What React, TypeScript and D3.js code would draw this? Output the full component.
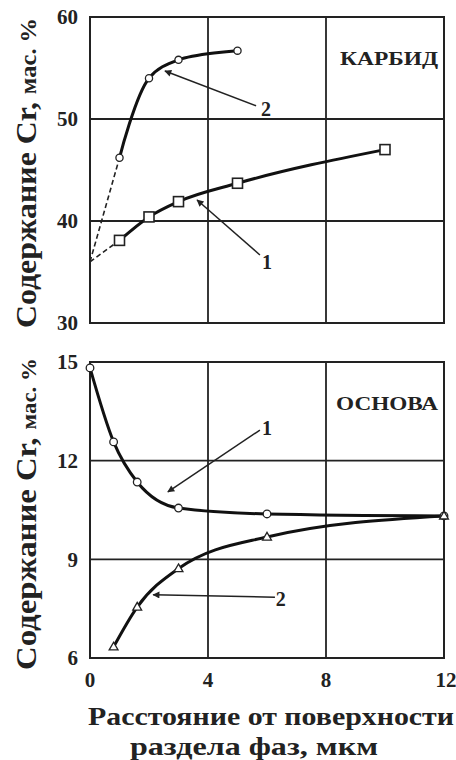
import React from "react";
import * as d3 from "d3";

// ---- data ----
const xTicks = [0, 4, 8, 12];
const topYTicks = [30, 40, 50, 60];
const botYTicks = [6, 9, 12, 15];

// Top panel (КАРБИД)
const carbideX2 = [1, 2, 3, 5];
const carbideY2 = [46.2, 54.0, 55.8, 56.7];
const carbideX1 = [1, 2, 3, 5, 10];
const carbideY1 = [38.1, 40.4, 41.9, 43.7, 47.0];
const carbideOrigin = [0, 36];

// Bottom panel (ОСНОВА)
const baseX1 = [0, 0.8, 1.6, 3, 6, 12];
const baseY1 = [14.82, 12.57, 11.35, 10.56, 10.38, 10.32];
const baseX2 = [0.8, 1.6, 3, 6, 12];
const baseY2 = [6.34, 7.55, 8.72, 9.68, 10.32];

// annotations (data units): [tipX, tipY, startX, startY, labelX, labelY, label]
const topNotes: [number, number, number, number, number, number, string][] = [
  [2.54, 54.7, 5.63, 51.3, 5.97, 51.0, "2"],
  [3.63, 42.06, 5.76, 36.67, 6.0, 36.0, "1"],
];
const botNotes: [number, number, number, number, number, number, string][] = [
  [2.64, 11.05, 5.76, 12.93, 6.0, 12.98, "1"],
  [2.14, 7.92, 6.27, 7.85, 6.47, 7.78, "2"],
];

const FONT = "Liberation Serif, Times New Roman, Times, serif";

export default function App() {
  const x = d3.scaleLinear().domain([0, 12]).range([90, 444]);
  const yT = d3.scaleLinear().domain([30, 60]).range([323, 17]);
  const yB = d3.scaleLinear().domain([6, 15]).range([658, 362]);

  const lineT = d3
    .line<[number, number]>()
    .x((d) => x(d[0]))
    .y((d) => yT(d[1]))
    .curve(d3.curveCatmullRom.alpha(0.5));
  const lineT1 = d3
    .line<[number, number]>()
    .x((d) => x(d[0]))
    .y((d) => yT(d[1]))
    .curve(d3.curveMonotoneX);
  const lineB = d3
    .line<[number, number]>()
    .x((d) => x(d[0]))
    .y((d) => yB(d[1]))
    .curve(d3.curveMonotoneX);
  const straightT = d3
    .line<[number, number]>()
    .x((d) => x(d[0]))
    .y((d) => yT(d[1]));

  const zip = (xs: number[], ys: number[]) =>
    xs.map((v, i) => [v, ys[i]] as [number, number]);

  const c2 = zip(carbideX2, carbideY2);
  const c1 = zip(carbideX1, carbideY1);
  const b1 = zip(baseX1, baseY1);
  const b2 = zip(baseX2, baseY2);

  const frame = (y: d3.ScaleLinear<number, number>, ticks: number[]) => (
    <g>
      {xTicks.slice(1, -1).map((t) => (
        <line
          key={"v" + t}
          x1={x(t)}
          x2={x(t)}
          y1={y(ticks[0])}
          y2={y(ticks[ticks.length - 1])}
          stroke="#222"
          strokeWidth={1.8}
        />
      ))}
      {ticks.slice(1, -1).map((t) => (
        <line
          key={"h" + t}
          x1={x(0)}
          x2={x(12)}
          y1={y(t)}
          y2={y(t)}
          stroke="#222"
          strokeWidth={1.8}
        />
      ))}
      <rect
        x={x(0)}
        y={y(ticks[ticks.length - 1])}
        width={x(12) - x(0)}
        height={y(ticks[0]) - y(ticks[ticks.length - 1])}
        fill="none"
        stroke="#222"
        strokeWidth={2}
      />
      {ticks.map((t) => (
        <text
          key={"t" + t}
          x={78}
          y={y(t)}
          dy="0.35em"
          textAnchor="end"
          fontFamily={FONT}
          fontWeight="bold"
          fontSize={21}
          fill="#222"
        >
          {t}
        </text>
      ))}
    </g>
  );

  const notes = (
    arr: [number, number, number, number, number, number, string][],
    y: d3.ScaleLinear<number, number>
  ) =>
    arr.map((n, i) => (
      <g key={i}>
        <line
          x1={x(n[2])}
          y1={y(n[3])}
          x2={x(n[0])}
          y2={y(n[1])}
          stroke="#222"
          strokeWidth={1.5}
          markerEnd="url(#arr)"
        />
        <text
          x={x(n[4])}
          y={y(n[5])}
          dy="0.35em"
          textAnchor="middle"
          fontFamily={FONT}
          fontWeight="bold"
          fontSize={20}
          fill="#222"
        >
          {n[6]}
        </text>
      </g>
    ));

  const triangle = d3.symbol().type(d3.symbolTriangle).size(34)();

  return (
    <svg
      width={456}
      height={760}
      style={{ position: "absolute", left: 0, top: 0, background: "#fff" }}
    >
      <defs>
        <marker
          id="arr"
          viewBox="0 0 10 10"
          refX={9}
          refY={5}
          markerWidth={9}
          markerHeight={7}
          markerUnits="userSpaceOnUse"
          orient="auto"
        >
          <path d="M0,0 L10,5 L0,10 Z" fill="#222" />
        </marker>
      </defs>

      {/* Top panel */}
      {frame(yT, topYTicks)}
      <path
        d={straightT([carbideOrigin as [number, number], c2[0]]) || ""}
        stroke="#222"
        strokeWidth={1.6}
        strokeDasharray="5,3"
        fill="none"
      />
      <path
        d={straightT([carbideOrigin as [number, number], c1[0]]) || ""}
        stroke="#222"
        strokeWidth={1.6}
        strokeDasharray="5,3"
        fill="none"
      />
      <path d={lineT(c2) || ""} stroke="#111" strokeWidth={3} fill="none" />
      <path d={lineT1(c1) || ""} stroke="#111" strokeWidth={3} fill="none" />
      {c2.map((d, i) => (
        <circle
          key={"c2" + i}
          cx={x(d[0])}
          cy={yT(d[1])}
          r={3.6}
          fill="#fff"
          stroke="#222"
          strokeWidth={1.3}
        />
      ))}
      {c1.map((d, i) => (
        <rect
          key={"c1" + i}
          x={x(d[0]) - 5}
          y={yT(d[1]) - 5}
          width={10}
          height={10}
          fill="#fff"
          stroke="#222"
          strokeWidth={1.6}
        />
      ))}
      {notes(topNotes, yT)}
      <text
        x={x(10.14)}
        y={yT(55.3)}
        textAnchor="middle"
        fontFamily={FONT}
        fontWeight="bold"
        fontSize={19}
        textLength={98}
        lengthAdjust="spacingAndGlyphs"
        fill="#222"
      >
        КАРБИД
      </text>

      {/* Bottom panel */}
      {frame(yB, botYTicks)}
      <path d={lineB(b1) || ""} stroke="#111" strokeWidth={3} fill="none" />
      <path d={lineB(b2) || ""} stroke="#111" strokeWidth={3} fill="none" />
      {b1.map((d, i) => (
        <circle
          key={"b1" + i}
          cx={x(d[0])}
          cy={yB(d[1])}
          r={3.8}
          fill="#fff"
          stroke="#222"
          strokeWidth={1.3}
        />
      ))}
      {b2.map((d, i) => (
        <path
          key={"b2" + i}
          d={triangle || ""}
          transform={`translate(${x(d[0])},${yB(d[1]) + 0.5})`}
          fill="#fff"
          stroke="#222"
          strokeWidth={1.3}
        />
      ))}
      {notes(botNotes, yB)}
      <text
        x={x(10.07)}
        y={yB(13.54)}
        textAnchor="middle"
        fontFamily={FONT}
        fontWeight="bold"
        fontSize={19}
        textLength={102}
        lengthAdjust="spacingAndGlyphs"
        fill="#222"
      >
        ОСНОВА
      </text>

      {/* X ticks */}
      {xTicks.map((t) => (
        <text
          key={"x" + t}
          x={x(t) + (t === 12 ? 2 : 0)}
          y={687}
          textAnchor="middle"
          fontFamily={FONT}
          fontWeight="bold"
          fontSize={21}
          fill="#222"
        >
          {t}
        </text>
      ))}

      {/* Y axis titles */}
      <text
        transform="translate(36,328) rotate(-90)"
        fontFamily={FONT}
        fontWeight="bold"
        fill="#222"
        textLength={310}
        lengthAdjust="spacingAndGlyphs"
      >
        <tspan fontSize={30}>Содержание Cr, </tspan>
        <tspan fontSize={23}>мас. %</tspan>
      </text>
      <text
        transform="translate(36,670) rotate(-90)"
        fontFamily={FONT}
        fontWeight="bold"
        fill="#222"
        textLength={312}
        lengthAdjust="spacingAndGlyphs"
      >
        <tspan fontSize={30}>Содержание Cr, </tspan>
        <tspan fontSize={21}>мас. %</tspan>
      </text>

      {/* X axis title */}
      <text
        x={88}
        y={725}
        fontFamily={FONT}
        fontWeight="bold"
        fontSize={26}
        textLength={366}
        lengthAdjust="spacingAndGlyphs"
        fill="#222"
      >
        Расстояние от поверхности
      </text>
      <text
        x={130}
        y={755}
        fontFamily={FONT}
        fontWeight="bold"
        fontSize={26}
        textLength={248}
        lengthAdjust="spacingAndGlyphs"
        fill="#222"
      >
        раздела фаз, мкм
      </text>
    </svg>
  );
}
